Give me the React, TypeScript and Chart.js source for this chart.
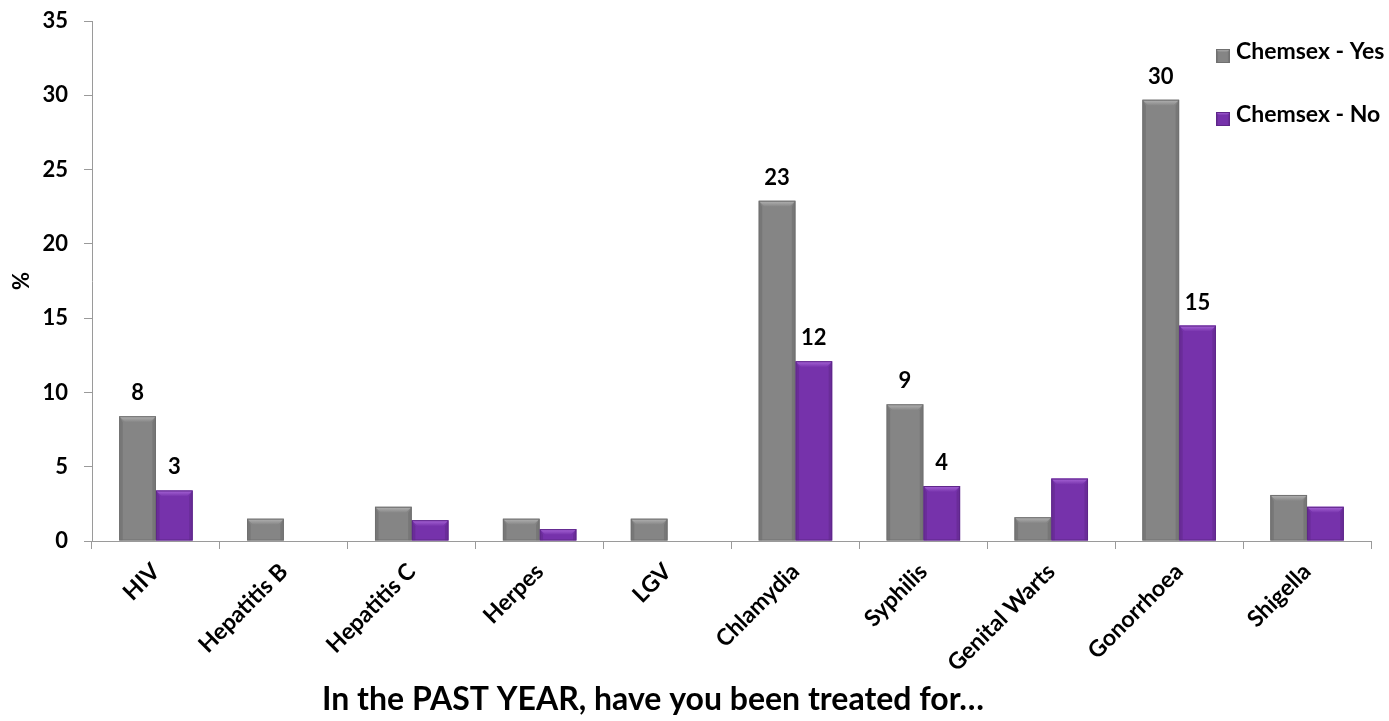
import React, { useEffect, useRef } from "react";
import { Chart, registerables } from "chart.js";

Chart.register(...registerables);

const categories = ["HIV", "Hepatitis B", "Hepatitis C", "Herpes", "LGV", "Chlamydia", "Syphilis", "Genital Warts", "Gonorrhoea", "Shigella"];
const yesValues = [8.4, 1.5, 2.3, 1.5, 1.5, 22.9, 9.2, 1.6, 29.7, 3.1];
const noValues: (number | null)[] = [3.4, null, 1.4, 0.8, null, 12.1, 3.7, 4.2, 14.5, 2.3];
const yesLabels = ["8", "", "", "", "", "23", "9", "", "30", ""];
const noLabels = ["3", "", "", "", "", "12", "4", "", "15", ""];
const seriesNames = ["Chemsex - Yes", "Chemsex - No"];
const yMin = 0;
const yMax = 35;
const yStep = 5;
const yAxisTitle = "%";
const bottomTitle = "In the PAST YEAR, have you been treated for…";

const FONT = "Lato, 'Open Sans', sans-serif";
const GRAY = { base: "#858585", light: "#b4b4b4", dark: "#6a6a6a", border: "#707070" };
const PURPLE = { base: "#7632ab", light: "#a866d8", dark: "#5a2385", border: "#5e2689" };
const palettes = [GRAY, PURPLE];

function drawBevel(ctx: CanvasRenderingContext2D, l: number, t: number, r: number, b: number, pal: typeof GRAY) {
  const h = b - t;
  if (h < 1) return;
  const bv = Math.min(6, h / 2, (r - l) / 4);
  ctx.save();
  const g = ctx.createLinearGradient(0, t, 0, t + bv);
  g.addColorStop(0, pal.light);
  g.addColorStop(1, pal.base);
  ctx.fillStyle = g;
  ctx.beginPath();
  ctx.moveTo(l, t);
  ctx.lineTo(r, t);
  ctx.lineTo(r - bv, t + bv);
  ctx.lineTo(l + bv, t + bv);
  ctx.closePath();
  ctx.fill();
  ctx.fillStyle = "rgba(0,0,0,0.10)";
  ctx.beginPath();
  ctx.moveTo(l, t);
  ctx.lineTo(l + bv * 0.6, t + bv);
  ctx.lineTo(l + bv * 0.6, b);
  ctx.lineTo(l, b);
  ctx.closePath();
  ctx.fill();
  ctx.beginPath();
  ctx.moveTo(r, t);
  ctx.lineTo(r - bv * 0.6, t + bv);
  ctx.lineTo(r - bv * 0.6, b);
  ctx.lineTo(r, b);
  ctx.closePath();
  ctx.fill();
  ctx.strokeStyle = pal.border;
  ctx.lineWidth = 1;
  ctx.strokeRect(l + 0.5, t + 0.5, r - l - 1, b - t - 1);
  ctx.restore();
}

const decorPlugin = {
  id: "decor",
  afterDatasetsDraw(chart: any) {
    const ctx: CanvasRenderingContext2D = chart.ctx;
    const labelSets = [yesLabels, noLabels];
    chart.data.datasets.forEach((_ds: any, di: number) => {
      const meta = chart.getDatasetMeta(di);
      meta.data.forEach((el: any, i: number) => {
        const p = el.getProps(["x", "y", "base", "width"], true);
        if (p.y == null || isNaN(p.y)) return;
        const l = p.x - p.width / 2;
        const r = p.x + p.width / 2;
        drawBevel(ctx, l, Math.min(p.y, p.base), r, Math.max(p.y, p.base), palettes[di]);
        const txt = labelSets[di][i];
        if (txt) {
          ctx.save();
          ctx.font = `bold 22px ${FONT}`;
          ctx.fillStyle = "#000";
          ctx.textAlign = "center";
          ctx.textBaseline = "alphabetic";
          ctx.fillText(txt, p.x, p.y - 16);
          ctx.restore();
        }
      });
    });
    const legendY = [49, 112];
    seriesNames.forEach((name, i) => {
      const sx = 1216;
      const sy = legendY[i];
      ctx.save();
      ctx.fillStyle = palettes[i].base;
      ctx.fillRect(sx, sy, 14, 14);
      drawBevel(ctx, sx, sy, sx + 14, sy + 14, palettes[i]);
      ctx.font = `bold 23px ${FONT}`;
      ctx.fillStyle = "#000";
      ctx.textAlign = "left";
      ctx.textBaseline = "alphabetic";
      ctx.fillText(name, 1236, sy + 10);
      ctx.restore();
    });
    ctx.save();
    ctx.font = `bold 32px ${FONT}`;
    ctx.fillStyle = "#000";
    ctx.textAlign = "center";
    ctx.textBaseline = "alphabetic";
    ctx.fillText(bottomTitle, 653, 710);
    ctx.restore();
  },
};

export default function App() {
  const ref = useRef<HTMLCanvasElement | null>(null);
  useEffect(() => {
    if (!ref.current) return;
    const chart = new Chart(ref.current, {
      type: "bar",
      data: {
        labels: categories,
        datasets: [
          {
            label: seriesNames[0],
            data: yesValues,
            backgroundColor: GRAY.base,
            borderWidth: 0,
            categoryPercentage: 0.575,
            barPercentage: 1,
          },
          {
            label: seriesNames[1],
            data: noValues,
            backgroundColor: PURPLE.base,
            borderWidth: 0,
            categoryPercentage: 0.575,
            barPercentage: 1,
          },
        ],
      },
      options: {
        responsive: false,
        animation: false,
        devicePixelRatio: 1,
        layout: { padding: { top: 21, right: 18, bottom: 0, left: 0 } },
        plugins: {
          legend: { display: false },
          tooltip: { enabled: false },
          title: { display: false },
        },
        scales: {
          x: {
            offset: true,
            grid: {
              offset: true,
              drawOnChartArea: false,
              drawTicks: true,
              tickLength: 8,
              color: "#9a9a9a",
            },
            border: { color: "#9a9a9a", width: 1 },
            ticks: {
              autoSkip: false,
              minRotation: 45,
              maxRotation: 45,
              padding: 9,
              color: "#000",
              font: { family: FONT, size: 23, weight: "bold" },
            },
            afterFit(scale: any) {
              scale.height = 180;
              scale.paddingLeft = 0;
              scale.paddingRight = 0;
              scale.paddingTop = 0;
              scale.paddingBottom = 0;
            },
          },
          y: {
            min: yMin,
            max: yMax,
            ticks: {
              stepSize: yStep,
              padding: 16,
              color: "#000",
              font: { family: FONT, size: 22, weight: "bold" },
            },
            grid: {
              drawOnChartArea: false,
              drawTicks: true,
              tickLength: 8,
              color: "#9a9a9a",
            },
            border: { color: "#9a9a9a", width: 1 },
            title: {
              display: true,
              text: yAxisTitle,
              color: "#000",
              font: { family: FONT, size: 22, weight: "bold" },
              padding: { top: 9, bottom: 0 },
            },
            afterFit(scale: any) {
              scale.width = 92;
              scale.paddingTop = 0;
              scale.paddingBottom = 0;
              scale.paddingLeft = 0;
              scale.paddingRight = 0;
            },
          },
        },
      },
      plugins: [decorPlugin],
    });
    return () => chart.destroy();
  }, []);
  return (
    <div style={{ position: "absolute", left: 0, top: 0, width: 1389, height: 721, background: "#fff" }}>
      <canvas ref={ref} width={1389} height={721} style={{ display: "block" }} />
    </div>
  );
}
